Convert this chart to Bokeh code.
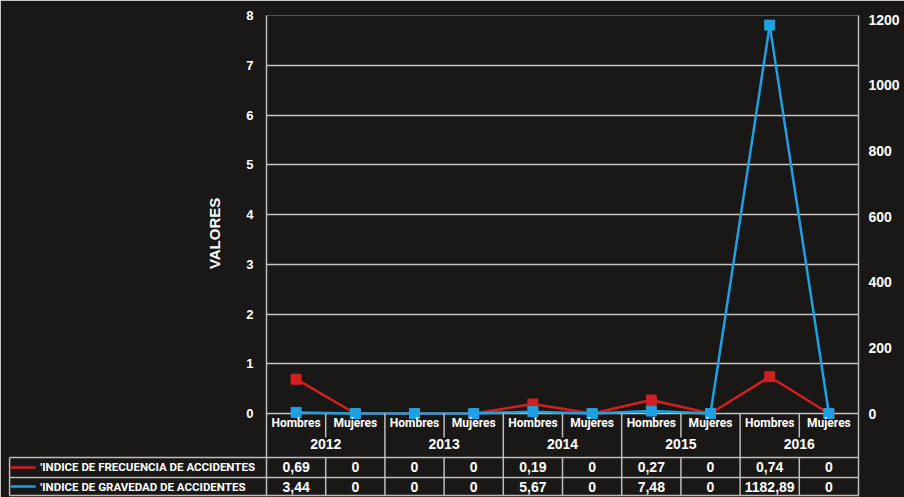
import numpy as np
from bokeh.plotting import figure
from bokeh.models import Range1d, LinearAxis, FixedTicker
from bokeh.core.properties import value
from bokeh.embed import file_html
from bokeh.resources import INLINE

# ---------------- data ----------------
years = ["2012", "2013", "2014", "2015", "2016"]
sexes = ["Hombres", "Mujeres"]
categories = [s for y in years for s in sexes]
frecuencia = [0.69, 0, 0, 0, 0.19, 0, 0.27, 0, 0.74, 0]
gravedad = [3.44, 0, 0, 0, 5.67, 0, 7.48, 0, 1182.89, 0]
series_names = ["'INDICE DE FRECUENCIA DE ACCIDENTES",
                "'INDICE DE GRAVEDAD DE ACCIDENTES"]
axis_title = "VALORES"
left_ticks = [0, 1, 2, 3, 4, 5, 6, 7, 8]
right_ticks = [0, 200, 400, 600, 800, 1000, 1200]

# ---------------- style ----------------
BG = "#1a1816"
RED = "#d22020"
BLUE = "#1fa0e2"
GRID = "#c4c4c4"
LINEC = "#bdbdbd"
FONT = "Liberation Sans"
CFONT = "Roboto"

n = len(categories)
xc = np.arange(n) + 0.5

# table layout (in left-axis units, below zero)
Y_CAT = -0.20
Y_YEAR = -0.62
Y_H1 = -0.884
Y_R1 = -1.085
Y_H2 = -1.286
Y_R2 = -1.467
Y_BOT = -1.648
Y_SUB = -0.48
X_LEFT = -4.34

p = figure(width=904, height=497, output_backend="svg", toolbar_location=None,
           x_range=Range1d(0, n), y_range=Range1d(-1.688, 8),
           min_border_left=266, min_border_right=46, min_border_top=15,
           min_border_bottom=0)
p.background_fill_color = BG
p.border_fill_color = BG
p.outline_line_color = None
p.xaxis.visible = False
p.xgrid.grid_line_color = None

ya = p.yaxis[0]
ya.ticker = FixedTicker(ticks=left_ticks)
ya.axis_line_color = None
ya.major_tick_line_color = None
ya.minor_tick_line_color = None
ya.major_tick_out = 0
ya.major_tick_in = 0
ya.major_label_standoff = 13
ya.major_label_text_color = "white"
ya.major_label_text_font = FONT
ya.major_label_text_font_style = "bold"
ya.major_label_text_font_size = "13px"

p.ygrid.grid_line_color = GRID
p.ygrid.grid_line_width = 1.6

p.extra_y_ranges = {"g": Range1d(-255.8, 1212.2)}
ra = LinearAxis(y_range_name="g", ticker=FixedTicker(ticks=right_ticks))
ra.axis_line_color = None
ra.major_tick_line_color = None
ra.minor_tick_line_color = None
ra.major_tick_out = 0
ra.major_tick_in = 0
ra.major_label_standoff = 10
ra.major_label_text_color = "white"
ra.major_label_text_font = FONT
ra.major_label_text_font_style = "bold"
ra.major_label_text_font_size = "14px"
p.add_layout(ra, "right")

# axis title (left), drawn outside the frame
p.text([-0.87], [3.62], text=[axis_title], angle=np.pi / 2, text_color="white",
       text_font=value(FONT), text_font_style="bold", text_font_size="15px",
       text_align="center", text_baseline="middle", level="overlay")

# ---------------- table structure ----------------
bounds = np.arange(n + 1)
seg_x0, seg_y0, seg_x1, seg_y1 = [], [], [], []
for b in bounds:
    if b == 0 or b == n:
        seg_x0 += [b]; seg_y0 += [8]; seg_x1 += [b]; seg_y1 += [Y_BOT]
    elif b % 2 == 0:
        seg_x0 += [b]; seg_y0 += [0]; seg_x1 += [b]; seg_y1 += [Y_BOT]
    else:
        seg_x0 += [b, b]; seg_y0 += [0, Y_H1]; seg_x1 += [b, b]; seg_y1 += [Y_SUB, Y_BOT]
for yy in (Y_H1, Y_H2, Y_BOT):
    seg_x0 += [X_LEFT]; seg_y0 += [yy]; seg_x1 += [n]; seg_y1 += [yy]
seg_x0 += [X_LEFT]; seg_y0 += [Y_H1]; seg_x1 += [X_LEFT]; seg_y1 += [Y_BOT]
p.segment(seg_x0, seg_y0, seg_x1, seg_y1, line_color=LINEC, line_width=1.5, level="overlay")

# ---------------- series ----------------
p.line(xc, frecuencia, line_color=RED, line_width=2.5)
p.scatter(xc, frecuencia, marker="square", size=10, color=RED)
p.line(xc, gravedad, y_range_name="g", line_color=BLUE, line_width=2.5)
p.scatter(xc, gravedad, y_range_name="g", marker="square", size=10, color=BLUE)

# ---------------- labels ----------------
p.text(xc, [Y_CAT] * n, text=categories, text_color="white", text_font=value(CFONT),
       text_font_style="bold", text_font_size="12px", text_align="center",
       text_baseline="middle", level="overlay")
yx = np.arange(len(years)) * 2 + 1
p.text(yx, [Y_YEAR] * len(years), text=years, text_color="white", text_font=value(FONT),
       text_font_style="bold", text_font_size="14px", text_align="center",
       text_baseline="middle", level="overlay")

def fmt(v):
    return "0" if v == 0 else f"{v:.2f}".replace(".", ",")

p.text(xc, [Y_R1] * n, text=[fmt(v) for v in frecuencia], text_color="white",
       text_font=value(FONT), text_font_style="bold", text_font_size="14px",
       text_align="center", text_baseline="middle", level="overlay")
p.text(xc, [Y_R2] * n, text=[fmt(v) for v in gravedad], text_color="white",
       text_font=value(FONT), text_font_style="bold", text_font_size="14px",
       text_align="center", text_baseline="middle", level="overlay")

# legend column
p.segment([-4.32, -4.32], [Y_R1, Y_R2], [-3.90, -3.90], [Y_R1, Y_R2],
          line_color=[RED, BLUE], line_width=2.5, level="overlay")
p.scatter([-4.105, -4.105], [Y_R1, Y_R2], marker="square", size=10,
          color=[RED, BLUE], level="overlay")
p.text([-3.82, -3.82], [Y_R1, Y_R2], text=series_names, text_color="white",
       text_font=value(CFONT), text_font_style="bold", text_font_size="11.5px",
       text_align="left", text_baseline="middle", level="overlay")

open("out.html", "w").write(file_html(p, INLINE))
